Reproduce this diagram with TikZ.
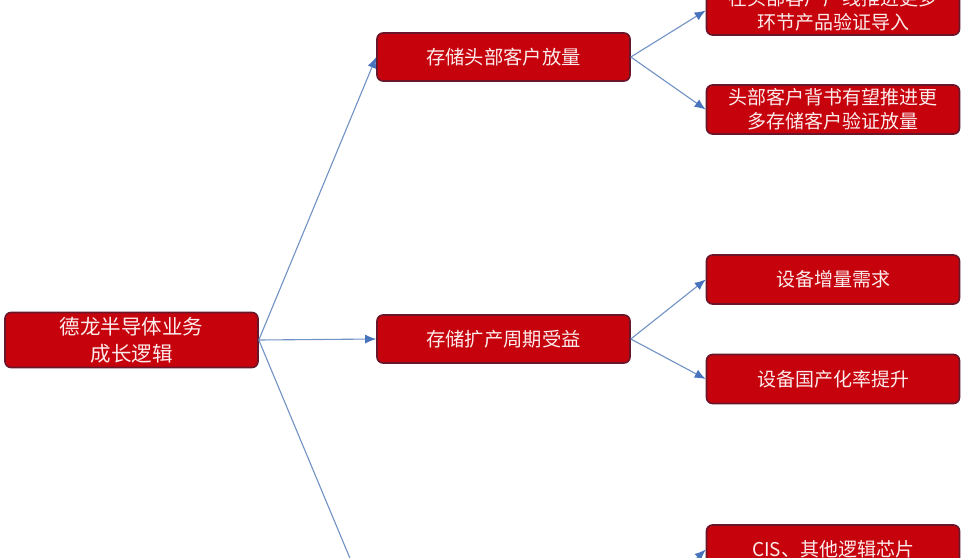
\documentclass[tikz,border=0pt]{standalone}
\usepackage{fontspec}
\setmainfont{Noto Sans CJK SC}
\usetikzlibrary{arrows.meta}
\definecolor{boxred}{RGB}{198,2,12}
\definecolor{boxedge}{RGB}{105,22,42}
\definecolor{boxtext}{RGB}{252,236,236}
\definecolor{linkblue}{RGB}{112,146,196}
\definecolor{tipblue}{RGB}{72,116,190}
\tikzset{
  redbox/.style={draw=boxedge, line width=1.6pt, fill=boxred, rounded corners=6pt,
    text=boxtext, align=center, inner sep=0pt, minimum width=253pt},
  rootbox/.style={redbox, minimum height=55pt, font=\fontsize{20.5pt}{27pt}\selectfont},
  midbox/.style={redbox, minimum height=48pt, font=\fontsize{19.3pt}{25pt}\selectfont},
  leafbox/.style={redbox, minimum height=49pt, font=\fontsize{19pt}{24pt}\selectfont},
  link/.style={draw=linkblue, line width=1.1pt,
    -{Latex[length=11pt,width=9pt,fill=tipblue,color=tipblue]}}
}
\begin{document}
\begin{tikzpicture}[x=1pt,y=-1pt]
\useasboundingbox (0,0) rectangle (972,557);
\clip (0,0) rectangle (972,557);
\fill[white] (0,0) rectangle (972,557);
\node[rootbox] (root) at (131.5,340) {德龙半导体业务\\成长逻辑};
\node[midbox] (m1) at (503.5,57) {存储头部客户放量};
\node[midbox] (m2) at (503.5,339) {存储扩产周期受益};
\coordinate (m3w) at (377,623);
\coordinate (m3e) at (630,623);
\node[leafbox] (l1) at (833,10.5) {在头部客户产线推进更多\\环节产品验证导入};
\node[leafbox] (l2) at (833,109.5) {头部客户背书有望推进更\\多存储客户验证放量};
\node[leafbox] (l3) at (833,279.5) {设备增量需求};
\node[leafbox] (l4) at (833,379) {设备国产化率提升};
\node[leafbox] (l5) at (833,549.5) {CIS、其他逻辑芯片};
\draw[link] (root.east) -- (m1.west);
\draw[link] (root.east) -- (m2.west);
\draw[link] (root.east) -- (m3w);
\draw[link] (m1.east) -- (l1.west);
\draw[link] (m1.east) -- (l2.west);
\draw[link] (m2.east) -- (l3.west);
\draw[link] (m2.east) -- (l4.west);
\draw[link] (m3e) -- (l5.west);
\end{tikzpicture}
\end{document}
